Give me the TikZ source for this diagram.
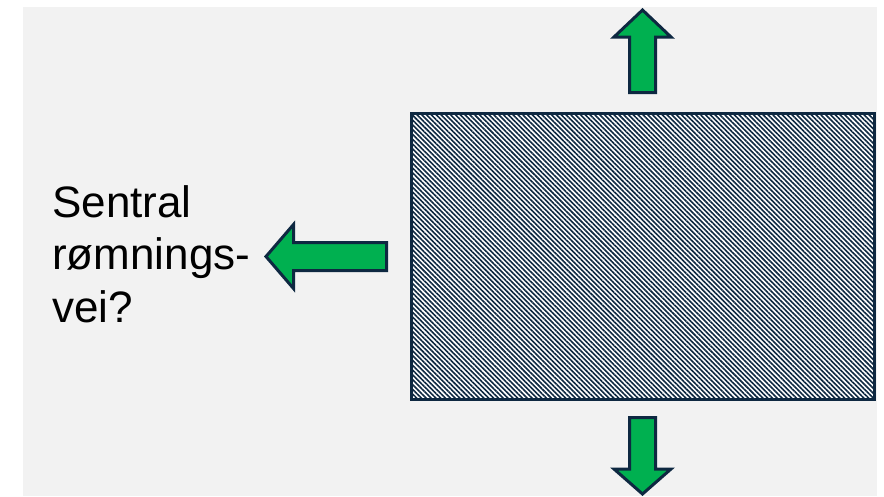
\documentclass[tikz,border=0pt]{standalone}
\usepackage{fontspec}
\setmainfont{Liberation Sans}
\usetikzlibrary{patterns.meta}
\definecolor{bggray}{HTML}{F2F2F2}
\definecolor{navy}{HTML}{0E2841}
\definecolor{exitgreen}{HTML}{00B050}
\tikzset{
  exitarrow/.style={fill=exitgreen, draw=navy, line width=3pt, line join=miter},
  roombox/.style={draw=navy, line width=3pt, fill=white,
    postaction={pattern={Lines[angle=-45, distance=3.4pt, line width=1.6pt]}, pattern color=navy}},
  label/.style={font=\fontsize{44}{52.5}\selectfont, align=left, inner sep=0pt, text=black}
}
\begin{document}
\begin{tikzpicture}[x=1pt, y=-1pt]
  \useasboundingbox (0,0) rectangle (884,496);
  \fill[bggray] (23,7) rectangle (877,496);
  % room
  \path[roombox] (411.5,113.5) rectangle (874.5,399.5);
  \coordinate (room) at (643,256.5);
  % up arrow
  \path[exitarrow] (642.5,10) -- (671,37) -- (655.5,37) -- (655.5,92.5) -- (629.5,92.5) -- (629.5,37) -- (614,37) -- cycle;
  % down arrow
  \path[exitarrow] (629.5,417.5) -- (655.5,417.5) -- (655.5,469) -- (671,469) -- (642.5,494) -- (614,469) -- (629.5,469) -- cycle;
  % left arrow
  \path[exitarrow] (266,256.5) -- (293.5,224.5) -- (293.5,242.5) -- (386.5,242.5) -- (386.5,270.5) -- (293.5,270.5) -- (293.5,288.5) -- cycle;
  % text
  \node[label, anchor=base west] (txt) at (52,322) {Sentral\\rømnings-\\vei?};
\end{tikzpicture}
\end{document}
